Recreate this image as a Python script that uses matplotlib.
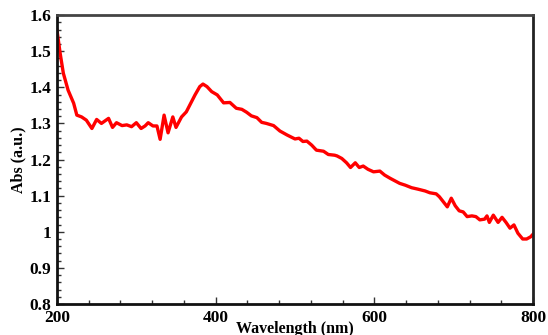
import matplotlib
matplotlib.use('Agg')
import matplotlib.pyplot as plt
from matplotlib.ticker import MultipleLocator

# absorbance spectrum
wavelength = [200, 204, 208, 214, 221, 225, 231, 237, 244, 250, 256, 265, 270, 275,
              282, 288, 294, 300, 306, 311, 315, 321, 326, 330, 335, 340, 346, 350,
              357, 363, 374, 380, 384, 389, 395, 402, 410, 418, 426, 433, 439, 445,
              452, 458, 464, 473, 481, 490, 500, 505, 510, 515, 521, 527, 536, 542,
              550, 553, 559, 565, 570, 576, 581, 586, 592, 599, 607, 613, 620, 626,
              632, 639, 647, 655, 664, 670, 678, 682, 687, 692, 697, 702, 707, 712,
              717, 723, 728, 733, 739, 742, 745, 750, 756, 761, 766, 771, 776, 781,
              787, 792, 797, 800]
absorbance = [1.558, 1.494, 1.439, 1.392, 1.356, 1.323, 1.318, 1.309, 1.286, 1.311,
              1.300, 1.314, 1.289, 1.302, 1.294, 1.296, 1.291, 1.302, 1.286, 1.293,
              1.302, 1.293, 1.293, 1.256, 1.323, 1.274, 1.318, 1.289, 1.318, 1.332,
              1.379, 1.402, 1.409, 1.402, 1.388, 1.379, 1.357, 1.358, 1.342, 1.339,
              1.331, 1.321, 1.316, 1.303, 1.300, 1.294, 1.279, 1.268, 1.257, 1.259,
              1.250, 1.251, 1.240, 1.226, 1.223, 1.214, 1.212, 1.210, 1.203, 1.191,
              1.178, 1.191, 1.178, 1.182, 1.173, 1.166, 1.168, 1.157, 1.148, 1.141,
              1.134, 1.129, 1.122, 1.118, 1.113, 1.108, 1.105, 1.097, 1.083, 1.069,
              1.093, 1.072, 1.058, 1.055, 1.042, 1.044, 1.042, 1.033, 1.035, 1.044,
              1.026, 1.046, 1.026, 1.040, 1.026, 1.010, 1.019, 0.996, 0.980, 0.980,
              0.986, 0.993]
ytick_values = [0.8, 0.9, 1.0, 1.1, 1.2, 1.3, 1.4, 1.5, 1.6]
ytick_labels = ['0.8', '0.9', '1', '1.1', '1.2', '1.3', '1.4', '1.5', '1.6']

plt.rcParams['font.family'] = ['Liberation Serif', 'DejaVu Serif']
plt.rcParams['font.weight'] = 'bold'

fig = plt.figure(figsize=(5.48, 3.35), dpi=100)
ax = fig.add_axes([0.104, 0.0925, 0.8686, 0.8625])

ax.plot(wavelength, absorbance, color='#ff0000', linewidth=2.4)

ax.set_xlim(200, 800)
ax.set_ylim(0.8, 1.6)
ax.xaxis.set_major_locator(MultipleLocator(200))
ax.xaxis.set_minor_locator(MultipleLocator(40))
ax.yaxis.set_minor_locator(MultipleLocator(0.02))
ax.set_yticks(ytick_values)
ax.set_yticklabels(ytick_labels)

ax.tick_params(which='both', direction='in', top=False, right=False,
               labelsize=12.5, width=1, color='#333333')
ax.tick_params(which='major', length=5, pad=4)
ax.tick_params(which='minor', length=3)

for side in ['left', 'bottom']:
    ax.spines[side].set_linewidth(2)
    ax.spines[side].set_color('#111111')
ax.spines['top'].set_linewidth(2)
ax.spines['top'].set_color('#444444')
ax.spines['right'].set_linewidth(2)
ax.spines['right'].set_color('#222222')

ax.set_xlabel('Wavelength (nm)', fontsize=11.5, fontweight='bold', labelpad=-3)
ax.set_ylabel('Abs (a.u.)', fontsize=11.5, fontweight='bold', labelpad=2)

fig.savefig('out.png', dpi=100)
